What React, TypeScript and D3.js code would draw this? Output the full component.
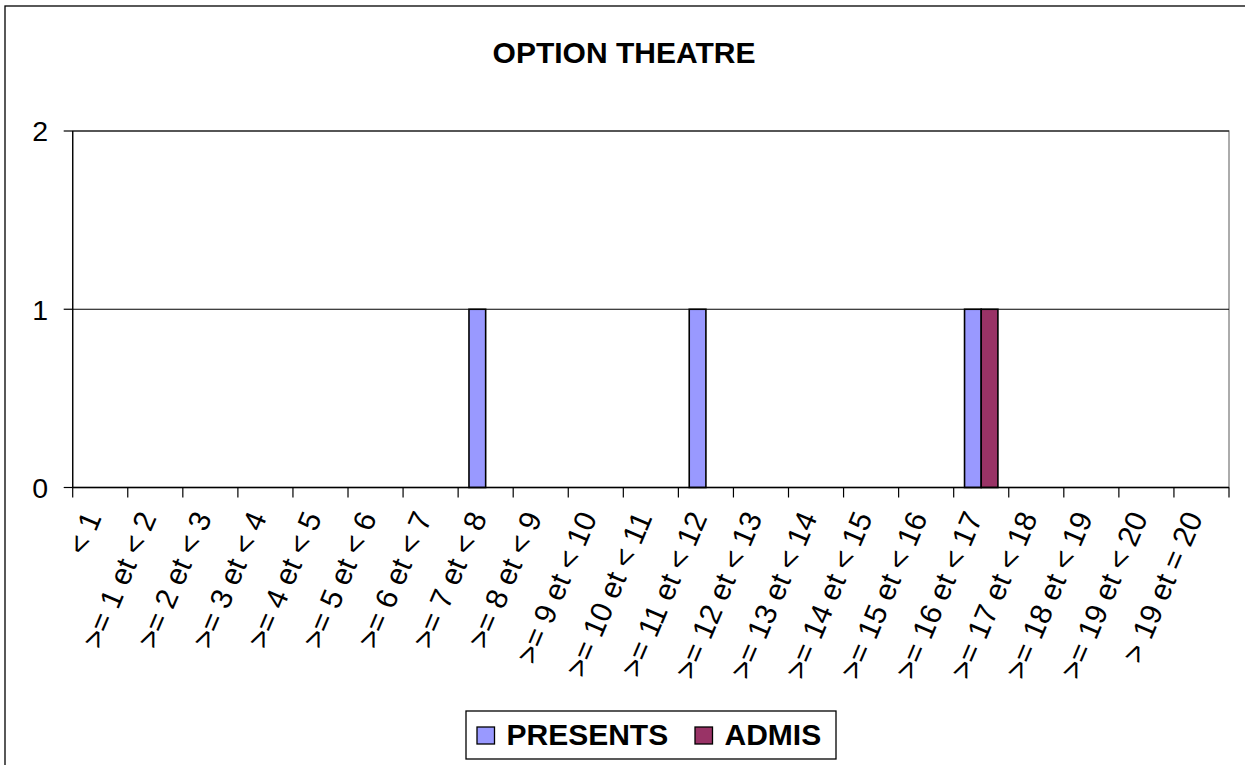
import React from "react";
import * as d3 from "d3";

// Score bands (x categories)
const categories: string[] = [
  "< 1",
  ">= 1 et < 2",
  ">= 2 et < 3",
  ">= 3 et < 4",
  ">= 4 et < 5",
  ">= 5 et < 6",
  ">= 6 et < 7",
  ">= 7 et < 8",
  ">= 8 et < 9",
  ">= 9 et < 10",
  ">= 10 et < 11",
  ">= 11 et < 12",
  ">= 12 et < 13",
  ">= 13 et < 14",
  ">= 14 et < 15",
  ">= 15 et < 16",
  ">= 16 et < 17",
  ">= 17 et < 18",
  ">= 18 et < 19",
  ">= 19 et < 20",
  "> 19 et = 20",
];

const seriesNames: string[] = ["PRESENTS", "ADMIS"];
const seriesColors: string[] = ["#9999FF", "#993366"];

const presents: number[] = [0, 0, 0, 0, 0, 0, 0, 1, 0, 0, 0, 1, 0, 0, 0, 0, 1, 0, 0, 0, 0];
const admis: number[] = [0, 0, 0, 0, 0, 0, 0, 0, 0, 0, 0, 0, 0, 0, 0, 0, 1, 0, 0, 0, 0];

const yTicks: number[] = [0, 1, 2];

const title = "OPTION THEATRE";

const W = 1245;
const H = 765;
const FONT = "'Liberation Sans', Arial, Helvetica, sans-serif";

export default function App() {
  const plot = { left: 72.7, right: 1229, top: 131, bottom: 487.5 };

  const x0 = d3
    .scaleBand<string>()
    .domain(categories)
    .range([plot.left, plot.right])
    .paddingInner(0)
    .paddingOuter(0);

  const x1 = d3
    .scaleBand<string>()
    .domain(seriesNames)
    .range([0, x0.bandwidth()])
    .paddingInner(0)
    .paddingOuter(0.65);

  const y = d3.scaleLinear().domain([0, 2]).range([plot.bottom, plot.top]);

  const seriesData = [presents, admis];
  const angle = 67;

  const boundaries = d3.range(categories.length + 1).map(
    (i) => plot.left + i * x0.step()
  );

  return (
    <svg
      width={W}
      height={H}
      style={{ position: "absolute", left: 0, top: 0, background: "#fff" }}
      fontFamily={FONT}
    >
      {/* chart area frame */}
      <rect x={5} y={6} width={W + 20} height={H + 20} fill="#fff" stroke="#000" strokeWidth={1.3} />

      {/* title */}
      <text x={624} y={63} textAnchor="middle" fontSize={30} fontWeight="bold" fill="#000">
        {title}
      </text>

      {/* plot area border */}
      <rect
        x={plot.left}
        y={plot.top}
        width={plot.right - plot.left}
        height={plot.bottom - plot.top}
        fill="#fff"
        stroke="#808080"
        strokeWidth={1.3}
      />

      {/* horizontal gridlines */}
      {yTicks.map((t) => (
        <line
          key={"g" + t}
          x1={plot.left}
          x2={plot.right}
          y1={y(t)}
          y2={y(t)}
          stroke="#000"
          strokeWidth={1.2}
        />
      ))}

      {/* bars */}
      {categories.map((c, i) => (
        <g key={"b" + c}>
          {seriesNames.map((s, k) => {
            const v = seriesData[k][i];
            if (!v) return null;
            return (
              <rect
                key={s}
                x={(x0(c) as number) + (x1(s) as number)}
                y={y(v)}
                width={x1.bandwidth()}
                height={y(0) - y(v)}
                fill={seriesColors[k]}
                stroke="#000"
                strokeWidth={1.6}
              />
            );
          })}
        </g>
      ))}

      {/* y axis */}
      <line x1={plot.left} x2={plot.left} y1={plot.top} y2={plot.bottom} stroke="#000" strokeWidth={1.3} />
      {yTicks.map((t) => (
        <g key={"y" + t}>
          <line x1={plot.left - 9} x2={plot.left} y1={y(t)} y2={y(t)} stroke="#000" strokeWidth={1.2} />
          <text
            x={48}
            y={y(t)}
            dy="0.36em"
            textAnchor="end"
            fontSize={28.5}
            fill="#000"
          >
            {t}
          </text>
        </g>
      ))}

      {/* x axis */}
      <line x1={plot.left} x2={plot.right} y1={plot.bottom} y2={plot.bottom} stroke="#000" strokeWidth={1.3} />
      {boundaries.map((bx, i) => (
        <line
          key={"t" + i}
          x1={bx}
          x2={bx}
          y1={plot.bottom}
          y2={plot.bottom + 10}
          stroke="#000"
          strokeWidth={1.2}
        />
      ))}
      {categories.map((c) => {
        const cx = (x0(c) as number) + x0.bandwidth() / 2;
        return (
          <text
            key={"l" + c}
            transform={`translate(${cx + 1.8},${517.5}) rotate(${-angle})`}
            textAnchor="end"
            fontSize={30}
            fill="#000"
          >
            {c}
          </text>
        );
      })}

      {/* legend */}
      <rect x={466} y={711} width={370} height={48} fill="#fff" stroke="#000" strokeWidth={1.3} />
      {seriesNames.map((s, k) => {
        const sx = k === 0 ? 477 : 695;
        return (
          <g key={"lg" + s}>
            <rect x={sx} y={727} width={17.5} height={17} fill={seriesColors[k]} stroke="#000" strokeWidth={1.3} />
            <text x={sx + 29.5} y={745} fontSize={30} fontWeight="bold" fill="#000">
              {s}
            </text>
          </g>
        );
      })}
    </svg>
  );
}
